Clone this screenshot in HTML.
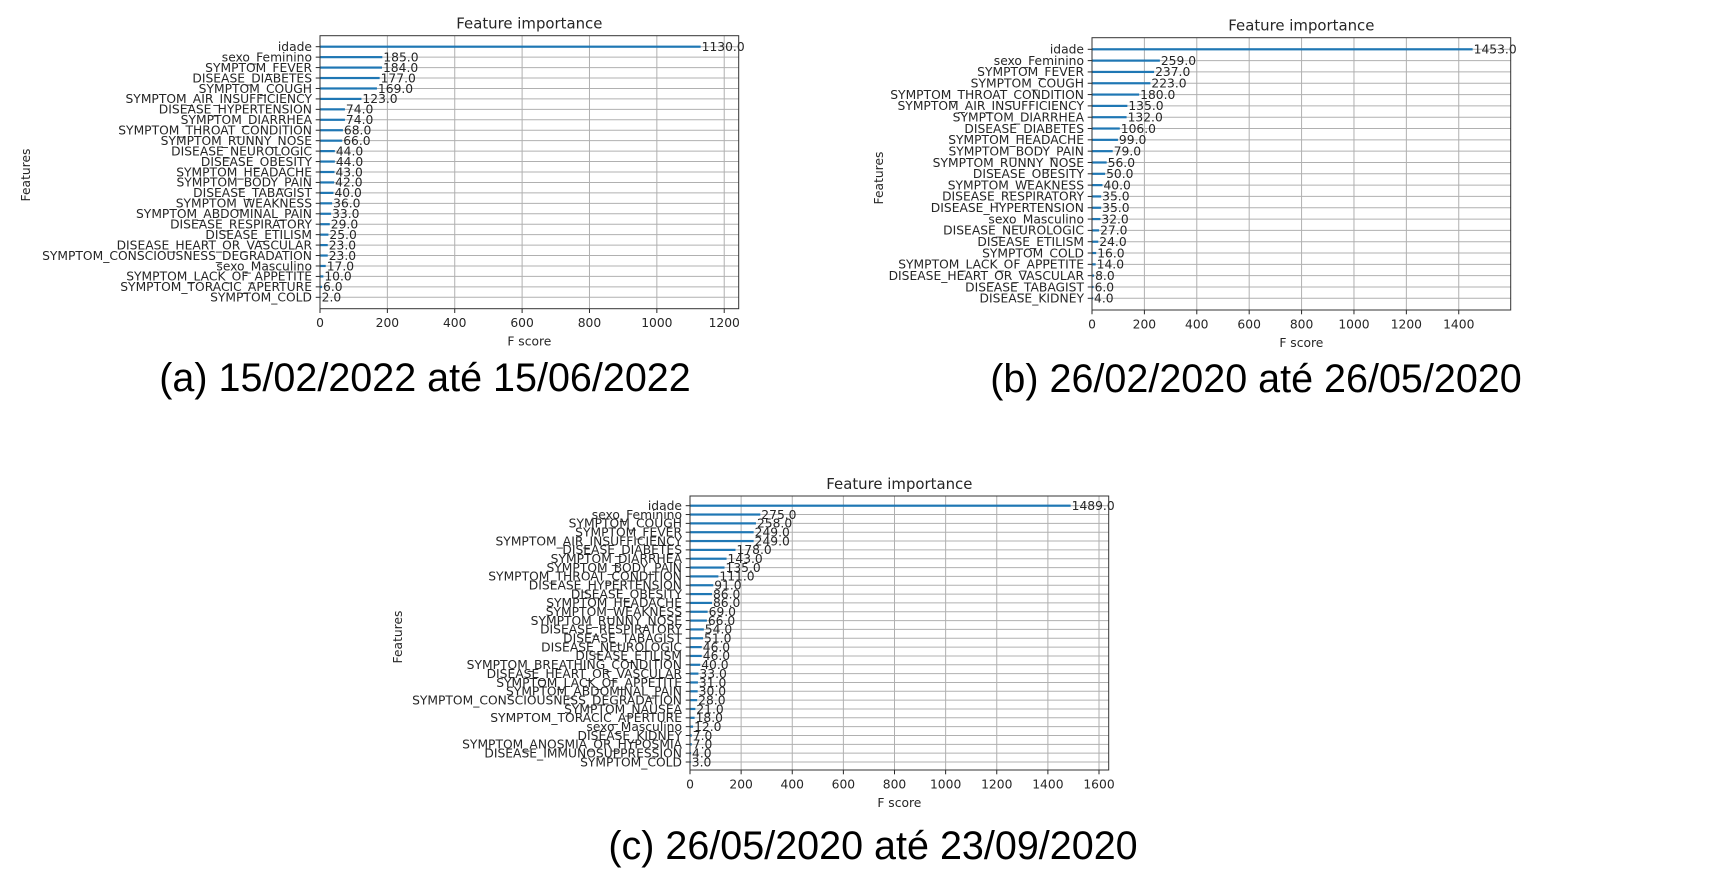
<!DOCTYPE html>
<html><head><meta charset="utf-8"><style>
html,body{margin:0;padding:0;background:#fff;}
svg{display:block;}
.cap{font-family:"Liberation Sans",Arial,sans-serif;font-size:39.5px;fill:#000;}
</style></head><body>
<svg id="fig" width="1712" height="889" viewBox="0 0 1712 889" xmlns="http://www.w3.org/2000/svg" font-family="DejaVu Sans, sans-serif">
<rect width="1712" height="889" fill="#fff"/>
<text class="cap" x="425" y="391" text-anchor="middle">(a) 15/02/2022 até 15/06/2022</text>
<text class="cap" x="1256" y="392" text-anchor="middle">(b) 26/02/2020 até 26/05/2020</text>
<text class="cap" x="873" y="859" text-anchor="middle">(c) 26/05/2020 até 23/09/2020</text>
</svg>
<script>
const featuresA = ["idade","sexo_Feminino","SYMPTOM_FEVER","DISEASE_DIABETES","SYMPTOM_COUGH","SYMPTOM_AIR_INSUFFICIENCY","DISEASE_HYPERTENSION","SYMPTOM_DIARRHEA","SYMPTOM_THROAT_CONDITION","SYMPTOM_RUNNY_NOSE","DISEASE_NEUROLOGIC","DISEASE_OBESITY","SYMPTOM_HEADACHE","SYMPTOM_BODY_PAIN","DISEASE_TABAGIST","SYMPTOM_WEAKNESS","SYMPTOM_ABDOMINAL_PAIN","DISEASE_RESPIRATORY","DISEASE_ETILISM","DISEASE_HEART_OR_VASCULAR","SYMPTOM_CONSCIOUSNESS_DEGRADATION","sexo_Masculino","SYMPTOM_LACK_OF_APPETITE","SYMPTOM_TORACIC_APERTURE","SYMPTOM_COLD"];
const scoresA = [1130,185,184,177,169,123,74,74,68,66,44,44,43,42,40,36,33,29,25,23,23,17,10,6,2];
const ticksA = [0,200,400,600,800,1000,1200];

const featuresB = ["idade","sexo_Feminino","SYMPTOM_FEVER","SYMPTOM_COUGH","SYMPTOM_THROAT_CONDITION","SYMPTOM_AIR_INSUFFICIENCY","SYMPTOM_DIARRHEA","DISEASE_DIABETES","SYMPTOM_HEADACHE","SYMPTOM_BODY_PAIN","SYMPTOM_RUNNY_NOSE","DISEASE_OBESITY","SYMPTOM_WEAKNESS","DISEASE_RESPIRATORY","DISEASE_HYPERTENSION","sexo_Masculino","DISEASE_NEUROLOGIC","DISEASE_ETILISM","SYMPTOM_COLD","SYMPTOM_LACK_OF_APPETITE","DISEASE_HEART_OR_VASCULAR","DISEASE_TABAGIST","DISEASE_KIDNEY"];
const scoresB = [1453,259,237,223,180,135,132,106,99,79,56,50,40,35,35,32,27,24,16,14,8,6,4];
const ticksB = [0,200,400,600,800,1000,1200,1400];

const featuresC = ["idade","sexo_Feminino","SYMPTOM_COUGH","SYMPTOM_FEVER","SYMPTOM_AIR_INSUFFICIENCY","DISEASE_DIABETES","SYMPTOM_DIARRHEA","SYMPTOM_BODY_PAIN","SYMPTOM_THROAT_CONDITION","DISEASE_HYPERTENSION","DISEASE_OBESITY","SYMPTOM_HEADACHE","SYMPTOM_WEAKNESS","SYMPTOM_RUNNY_NOSE","DISEASE_RESPIRATORY","DISEASE_TABAGIST","DISEASE_NEUROLOGIC","DISEASE_ETILISM","SYMPTOM_BREATHING_CONDITION","DISEASE_HEART_OR_VASCULAR","SYMPTOM_LACK_OF_APPETITE","SYMPTOM_ABDOMINAL_PAIN","SYMPTOM_CONSCIOUSNESS_DEGRADATION","SYMPTOM_NAUSEA","SYMPTOM_TORACIC_APERTURE","sexo_Masculino","DISEASE_KIDNEY","SYMPTOM_ANOSMIA_OR_HYPOSMIA","DISEASE_IMMUNOSUPPRESSION","SYMPTOM_COLD"];
const scoresC = [1489,275,258,249,249,178,143,135,111,91,86,86,69,66,54,51,46,46,40,33,31,30,28,21,18,12,7,7,4,3];
const ticksC = [0,200,400,600,800,1000,1200,1400,1600];

const NS = "http://www.w3.org/2000/svg";
const svg = document.getElementById('fig');
function mk(tag, attrs, parent){
  const e = document.createElementNS(NS, tag);
  for (const k in attrs) e.setAttribute(k, attrs[k]);
  (parent||svg).appendChild(e);
  return e;
}
function chart(id, feats, vals, ticks, box, ylab){
  const g = mk('g', {});
  
  
  const L = box.l, R = box.r, T = box.t, B = box.b;
  const xmax = Math.max(...vals) * 1.1;
  const xs = v => L + v / xmax * (R - L);
  const n = feats.length;
  const step = (box.r1 - box.r0) / (n - 1);
  const ys = i => box.r0 + i * step;
  ticks.forEach(t => {
    const gl = mk('line', {x1:xs(t), x2:xs(t), y1:T, y2:B, stroke:'#b0b0b0', 'stroke-width':1}, g);
    
    
  });
  feats.forEach((f, i) => {
    const gl = mk('line', {x1:L, x2:R, y1:ys(i), y2:ys(i), stroke:'#b0b0b0', 'stroke-width':1}, g);
    
    
  });
  feats.forEach((f, i) => {
    const y = ys(i);
    const bar = mk('rect', {x:L, y:y - 1.1, width:xs(vals[i]) - L, height:2.2, fill:'#1f77b4'}, g);
    
    
    const vt = mk('text', {x:xs(vals[i]) + 1, y:y + 4.3, 'font-size':12.3, fill:'#262626'}, g);
    vt.textContent = vals[i].toFixed(1);
    
    
    const tk = mk('line', {x1:L - 4.3, x2:L, y1:y, y2:y, stroke:'#262626', 'stroke-width':1}, g);
    
    
    const lt = mk('text', {x:L - 8, y:y + 4.3, 'font-size':12.3, 'text-anchor':'end', fill:'#262626'}, g);
    lt.textContent = f;
    
    
  });
  ticks.forEach(t => {
    const tk = mk('line', {x1:xs(t), x2:xs(t), y1:B, y2:B + 4.3, stroke:'#262626', 'stroke-width':1}, g);
    
    
    const tl = mk('text', {x:xs(t), y:B + 18.5, 'font-size':12.3, 'text-anchor':'middle', fill:'#262626'}, g);
    tl.textContent = t;
    
    
  });
  const fr = mk('rect', {x:L, y:T, width:R - L, height:B - T, fill:'none', stroke:'#333', 'stroke-width':1}, g);
  
  
  const ti = mk('text', {x:(L + R) / 2, y:T - 7, 'font-size':14.9, 'text-anchor':'middle', fill:'#262626'}, g);
  ti.textContent = 'Feature importance';
  
  
  const xl = mk('text', {x:(L + R) / 2, y:B + 37, 'font-size':12.3, 'text-anchor':'middle', fill:'#262626'}, g);
  xl.textContent = 'F score';
  
  
  const yl = mk('text', {x:0, y:0, 'font-size':12.3, 'text-anchor':'middle', fill:'#262626', transform:'translate(' + (ylab.x + 4) + ',' + ylab.y + ') rotate(-90)'}, g);
  yl.textContent = 'Features';
  
  
}
chart('a', featuresA, scoresA, ticksA, {l:320, r:738.7, t:35.7, b:308.7, r0:46.7, r1:297.3}, {x:26, y:175});
chart('b', featuresB, scoresB, ticksB, {l:1092, r:1510.7, t:37.7, b:310, r0:49.3, r1:298.3}, {x:879, y:178});
chart('c', featuresC, scoresC, ticksC, {l:690, r:1108.7, t:496, b:770, r0:505.7, r1:762}, {x:398, y:637});
</script>
</body></html>
